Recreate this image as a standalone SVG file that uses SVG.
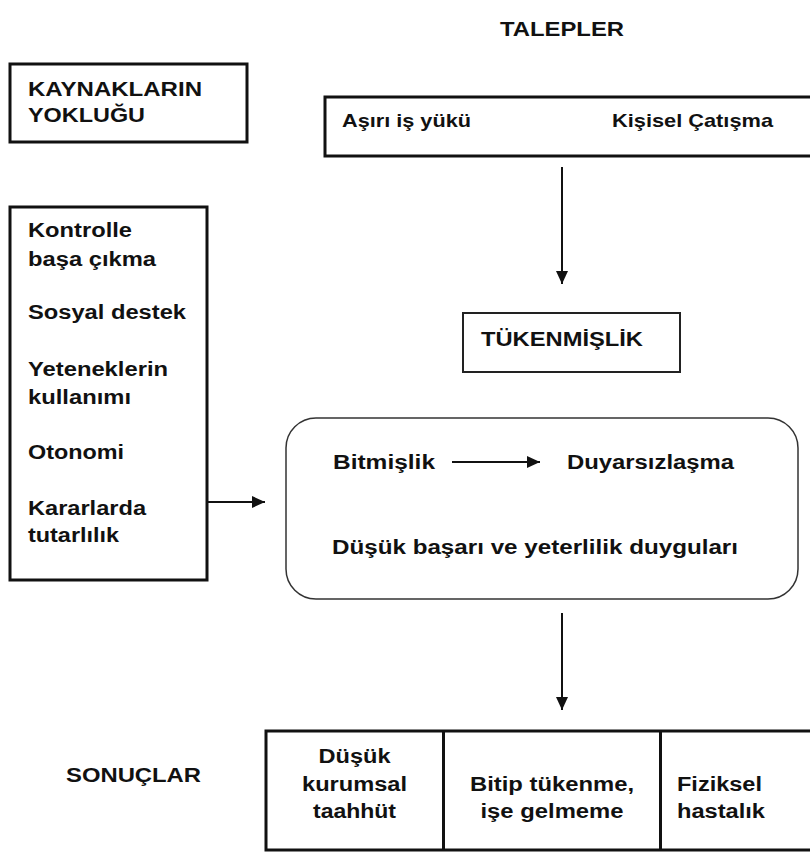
<svg xmlns="http://www.w3.org/2000/svg" width="810" height="855" viewBox="0 0 810 855">
  <style>
    text { font-family: "Liberation Sans", Arial, sans-serif; font-weight: bold; fill: #111; }
    .box { fill: #fff; stroke: #111; stroke-width: 3; }
    .thin { fill: #fff; stroke: #222; stroke-width: 2; }
    .round { fill: #fff; stroke: #333; stroke-width: 1.5; }
    .conn { stroke: #111; stroke-width: 2; fill: none; }
    .t21 { font-size: 21px; }
    .t20 { font-size: 20px; }
    .t19 { font-size: 19px; }
    .mid { text-anchor: middle; }
  </style>
  <defs>
    <marker id="arrow" markerUnits="userSpaceOnUse" markerWidth="14" markerHeight="14" viewBox="0 0 14 14" refX="13" refY="7" orient="auto">
      <path d="M0,1 L13,7 L0,13 Z" fill="#111"/>
    </marker>
  </defs>

  <g id="talepler-label">
    <text class="t21" x="500" y="36" textLength="124" lengthAdjust="spacingAndGlyphs">TALEPLER</text>
  </g>

  <g id="kaynaklarin">
    <rect class="box" x="10" y="64" width="237" height="78"/>
    <text class="t21" x="28" y="96" textLength="174" lengthAdjust="spacingAndGlyphs">KAYNAKLARIN</text>
    <text class="t21" x="28" y="122" textLength="117" lengthAdjust="spacingAndGlyphs">YOKLUĞU</text>
  </g>

  <g id="talepler">
    <rect class="box" x="325" y="97" width="495" height="59"/>
    <text class="t19" x="342" y="127" textLength="129" lengthAdjust="spacingAndGlyphs">Aşırı iş yükü</text>
    <text class="t19" x="612" y="127" textLength="161" lengthAdjust="spacingAndGlyphs">Kişisel Çatışma</text>
  </g>

  <g id="kaynaklar">
    <rect class="box" x="10" y="207" width="197" height="373"/>
    <text class="t20" x="28" y="237" textLength="104" lengthAdjust="spacingAndGlyphs">Kontrolle</text>
    <text class="t20" x="28" y="266" textLength="128" lengthAdjust="spacingAndGlyphs">başa çıkma</text>
    <text class="t20" x="28" y="319" textLength="158" lengthAdjust="spacingAndGlyphs">Sosyal destek</text>
    <text class="t20" x="28" y="376" textLength="140" lengthAdjust="spacingAndGlyphs">Yeteneklerin</text>
    <text class="t20" x="28" y="404" textLength="103" lengthAdjust="spacingAndGlyphs">kullanımı</text>
    <text class="t20" x="28" y="459" textLength="96" lengthAdjust="spacingAndGlyphs">Otonomi</text>
    <text class="t20" x="28" y="515" textLength="118" lengthAdjust="spacingAndGlyphs">Kararlarda</text>
    <text class="t20" x="28" y="542" textLength="91" lengthAdjust="spacingAndGlyphs">tutarlılık</text>
  </g>

  <g id="tukenmislik">
    <rect class="thin" x="463" y="313" width="217" height="59"/>
    <text class="t21" x="481" y="346" textLength="162" lengthAdjust="spacingAndGlyphs">TÜKENMİŞLİK</text>
  </g>

  <g id="boyutlar">
    <rect class="round" x="286" y="418" width="512" height="181" rx="30" ry="30"/>
    <text class="t20" x="333" y="469" textLength="102" lengthAdjust="spacingAndGlyphs">Bitmişlik</text>
    <text class="t20" x="567" y="469" textLength="167" lengthAdjust="spacingAndGlyphs">Duyarsızlaşma</text>
    <text class="t20" x="332" y="554" textLength="406" lengthAdjust="spacingAndGlyphs">Düşük başarı ve yeterlilik duyguları</text>
  </g>

  <g id="sonuclar-label">
    <text class="t21" x="66" y="782" textLength="135" lengthAdjust="spacingAndGlyphs">SONUÇLAR</text>
  </g>

  <g id="sonuclar">
    <rect class="box" x="266" y="731" width="554" height="119"/>
    <line class="box" x1="443.5" y1="731" x2="443.5" y2="850"/>
    <line class="box" x1="660.5" y1="731" x2="660.5" y2="850"/>
    <text class="t20 mid" x="354.5" y="763" textLength="72" lengthAdjust="spacingAndGlyphs">Düşük</text>
    <text class="t20 mid" x="354.5" y="791" textLength="105" lengthAdjust="spacingAndGlyphs">kurumsal</text>
    <text class="t20 mid" x="354.5" y="818" textLength="83" lengthAdjust="spacingAndGlyphs">taahhüt</text>
    <text class="t20 mid" x="552" y="791" textLength="164" lengthAdjust="spacingAndGlyphs">Bitip tükenme,</text>
    <text class="t20 mid" x="552" y="818" textLength="143" lengthAdjust="spacingAndGlyphs">işe gelmeme</text>
    <text class="t20" x="677" y="791" textLength="85" lengthAdjust="spacingAndGlyphs">Fiziksel</text>
    <text class="t20" x="677" y="818" textLength="88" lengthAdjust="spacingAndGlyphs">hastalık</text>
  </g>

  <g id="connectors">
    <line class="conn" x1="562" y1="167" x2="562" y2="284" marker-end="url(#arrow)"/>
    <line class="conn" x1="207" y1="502" x2="265" y2="502" marker-end="url(#arrow)"/>
    <line class="conn" x1="452" y1="462" x2="540" y2="462" marker-end="url(#arrow)"/>
    <line class="conn" x1="562" y1="613" x2="562" y2="710" marker-end="url(#arrow)"/>
  </g>
</svg>
